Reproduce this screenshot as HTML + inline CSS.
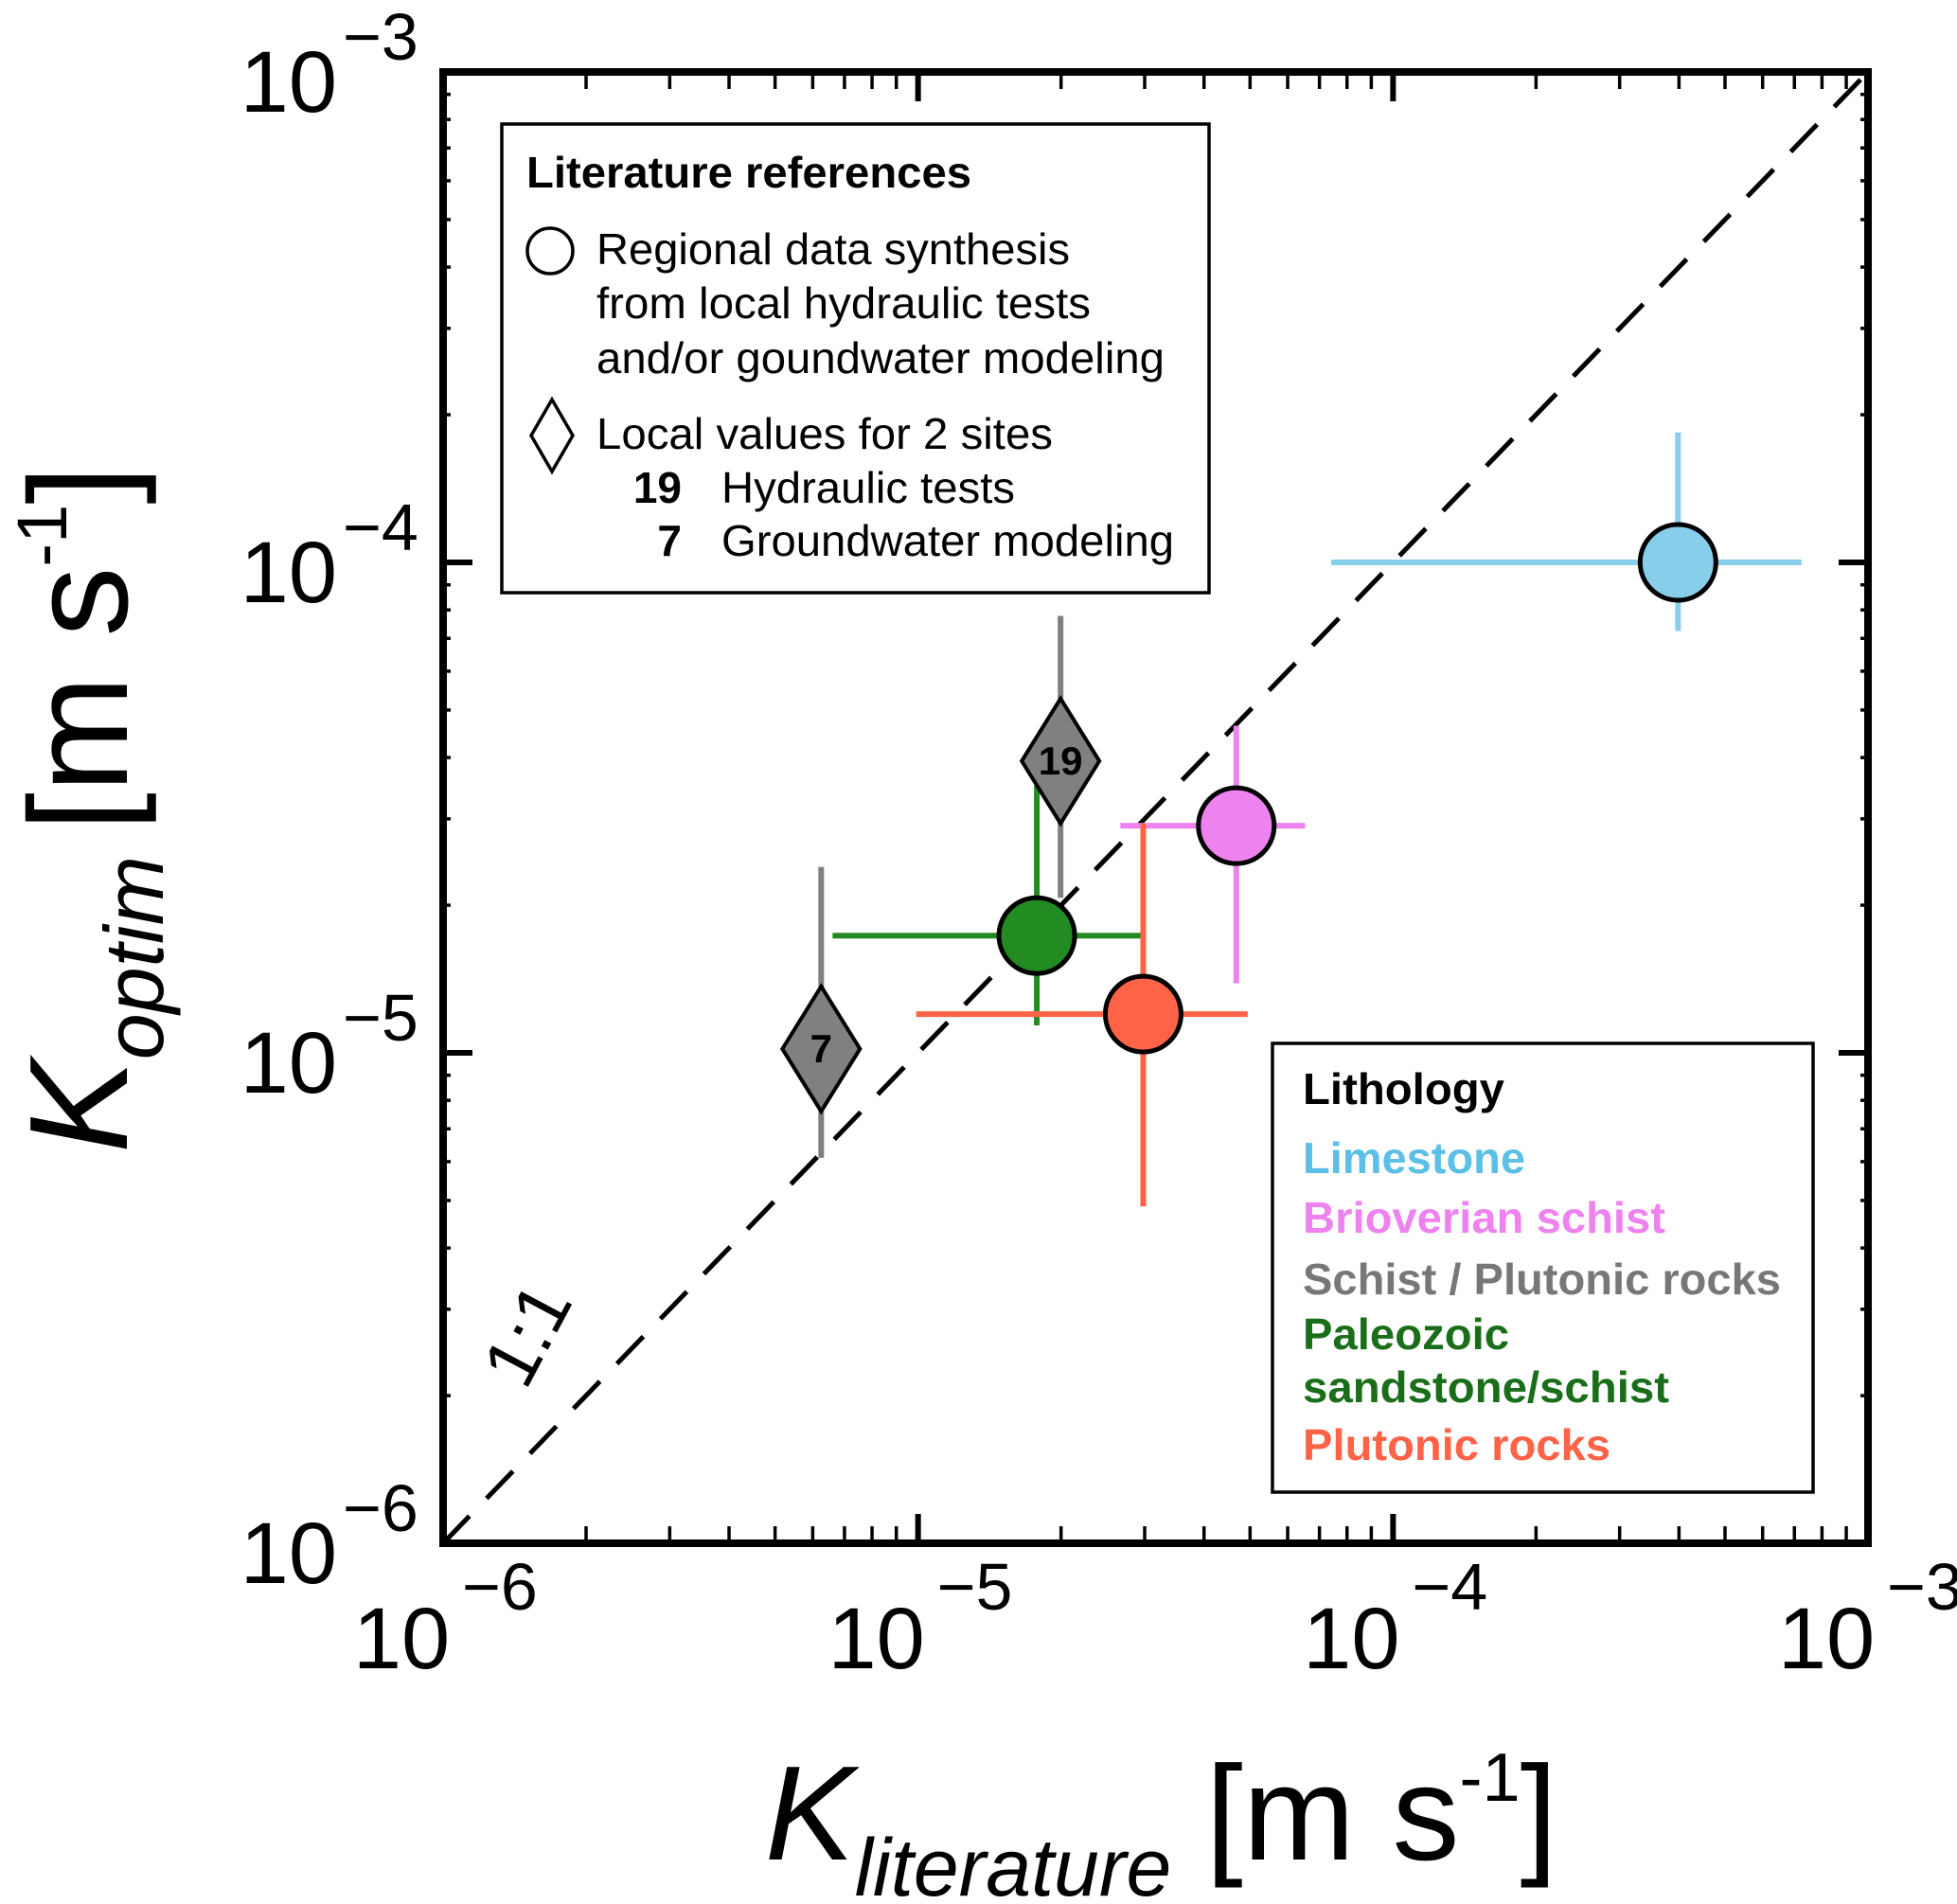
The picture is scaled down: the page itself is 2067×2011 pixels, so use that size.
<!DOCTYPE html>
<html><head><meta charset="utf-8"><style>
html,body{margin:0;padding:0;background:#fff;}
svg{display:block;font-family:"Liberation Sans",Arial,sans-serif;}
</style></head><body>
<svg id="chart" width="2067" height="2011" viewBox="0 0 2067 2011">
<g id="marks"></g>
</svg>
<script>
const categories = ["Limestone","Brioverian schist","Paleozoic sandstone/schist","Plutonic rocks","Site 19","Site 7"];
const logX = [-3.40,-4.33,-4.75,-4.526,-4.70,-5.204];
const logY = [-4.00,-4.537,-4.761,-4.921,-4.405,-4.992];
const xLow = [-4.13,-4.574,-5.18,-5.004,null,null];
const xHigh = [-3.14,-4.185,-4.526,-4.306,null,null];
const yLow = [-4.14,-4.858,-4.944,-5.313,-4.684,-5.214];
const yHigh = [-3.735,-4.333,-4.455,-4.532,-4.109,-4.621];
const markerType = ["circle","circle","circle","circle","diamond","diamond"];
const markerLabels = ["","","","","19","7"];
const xTickExps = [-6,-5,-4,-3];
const yTickExps = [-6,-5,-4,-3];

const NS="http://www.w3.org/2000/svg";
const L=468,R=1973,T=76,B=1630;
function sx(v){return L+(v+6)/3*(R-L);}
function sy(v){return B-(v+6)/3*(B-T);}
const svg=document.getElementById('chart');
function mk(tag,attrs,parent){const e=document.createElementNS(NS,tag);for(const k in attrs)e.setAttribute(k,attrs[k]);(parent||svg).appendChild(e);return e;}
const fills=["#87ceeb","#ee82ee","#228b22","#ff6347","#808080","#808080"];
const errCol=["#87ceeb","#ee82ee","#228b22","#ff6347","#808080","#808080"];

let e=mk('line',{x1:sx(-6),y1:sy(-6),x2:sx(-3),y2:sy(-3),stroke:'#000','stroke-width':5,'stroke-dasharray':'40 26'});


e=mk('text',{x:0,y:0,'font-size':78,transform:'translate(555,1470) rotate(-62)'});
e.textContent='1:1';



for(let i=0;i<categories.length;i++){
  const cx=sx(logX[i]),cy=sy(logY[i]);
  if(xLow[i]!==null){
    e=mk('line',{x1:sx(xLow[i]),y1:cy,x2:sx(xHigh[i]),y2:cy,stroke:errCol[i],'stroke-width':6});
    
    
  }
  e=mk('line',{x1:cx,y1:sy(yLow[i]),x2:cx,y2:sy(yHigh[i]),stroke:errCol[i],'stroke-width':6});
  
  
}
for(let i=0;i<categories.length;i++){
  const cx=sx(logX[i]),cy=sy(logY[i]);
  if(markerType[i]==='circle'){
    e=mk('circle',{cx:cx,cy:cy,r:40,fill:fills[i],stroke:'#000','stroke-width':5});
  } else {
    e=mk('polygon',{points:`${cx},${cy-66} ${cx+41},${cy} ${cx},${cy+66} ${cx-41},${cy}`,fill:fills[i],stroke:'#000','stroke-width':4});
    const t=mk('text',{x:cx,y:cy+14,'font-size':42,'font-weight':'bold','text-anchor':'middle'});
    t.textContent=markerLabels[i];
    
    
  }
  
  
}
e=mk('rect',{x:L,y:T,width:R-L,height:B-T,fill:'none',stroke:'#000','stroke-width':8});


for(let d=-6;d<-3;d++){
  for(let m=1;m<10;m++){
    const v=d+Math.log10(m);
    const major=m===1;
    const len=major?31:18, w=major?6:3.5;
    const x=sx(v),y=sy(v);
    if(m>1||d>-6){
      e=mk('line',{x1:x,y1:B,x2:x,y2:B-len,stroke:'#000','stroke-width':w});
      
      
      e=mk('line',{x1:x,y1:T,x2:x,y2:T+len,stroke:'#000','stroke-width':w});
      
      
      e=mk('line',{x1:L,y1:y,x2:L+(major?len:8),y2:y,stroke:'#000','stroke-width':w});
      
      
      e=mk('line',{x1:R,y1:y,x2:R-(major?len:8),y2:y,stroke:'#000','stroke-width':w});
      
      
    }
  }
}
for(const p of xTickExps){
  const x=sx(p);
  e=mk('text',{x:x-44,y:1762,'font-size':92,'text-anchor':'middle'});
  e.textContent='10';
  
  
  e=mk('text',{x:x+20,y:1700,'font-size':70});
  e.textContent='\u2212'+(-p);
  
  
}
for(const p of yTickExps){
  const y=sy(p);
  e=mk('text',{x:356,y:y+42,'font-size':92,'text-anchor':'end'});
  e.textContent='10';
  
  
  e=mk('text',{x:362,y:y-13,'font-size':70});
  e.textContent='\u2212'+(-p);
  
  
}
</script>
<svg style="position:absolute;left:0;top:0" width="2067" height="2011">
<g font-family="Liberation Sans, Arial, sans-serif">
<text x="808" y="1964" font-size="142"><tspan font-style="italic">K</tspan><tspan font-style="italic" font-size="86" dy="38" dx="0">literature</tspan><tspan dy="-38" dx="36">[m s</tspan><tspan font-size="72" dy="-62">-1</tspan><tspan dy="62">]</tspan></text>
<text transform="translate(134,1218) rotate(-90)" font-size="148"><tspan font-style="italic">K</tspan><tspan font-style="italic" font-size="88" dy="38">optim</tspan><tspan dy="-38" dx="26">[m s</tspan><tspan font-size="74" dy="-64">-1</tspan><tspan dy="64">]</tspan></text>
<g>
<rect x="530" y="131" width="747" height="495" fill="#fff" stroke="#000" stroke-width="3.5"/>
<text x="556" y="198" font-size="46" font-weight="bold" textLength="470" lengthAdjust="spacingAndGlyphs">Literature references</text>
<circle cx="581" cy="265" r="24" fill="none" stroke="#000" stroke-width="3.5"/>
<text x="630" y="279" font-size="46" textLength="500" lengthAdjust="spacingAndGlyphs">Regional data synthesis</text>
<text x="630" y="336" font-size="46" textLength="522" lengthAdjust="spacingAndGlyphs">from local hydraulic tests</text>
<text x="630" y="394" font-size="46" textLength="600" lengthAdjust="spacingAndGlyphs">and/or goundwater modeling</text>
<polygon points="583,422 605,460 583,498 561,460" fill="none" stroke="#000" stroke-width="3.5"/>
<text x="630" y="474" font-size="46" textLength="482" lengthAdjust="spacingAndGlyphs">Local values for 2 sites</text>
<text x="720" y="531" font-size="46" font-weight="bold" text-anchor="end">19</text>
<text x="762" y="531" font-size="46" textLength="310" lengthAdjust="spacingAndGlyphs">Hydraulic tests</text>
<text x="720" y="587" font-size="46" font-weight="bold" text-anchor="end">7</text>
<text x="762" y="587" font-size="46" textLength="478" lengthAdjust="spacingAndGlyphs">Groundwater modeling</text>
</g>
<g font-weight="bold" font-size="46">
<rect x="1344" y="1102" width="571" height="474" fill="#fff" stroke="#000" stroke-width="3.5"/>
<text x="1376" y="1166" fill="#000" textLength="213" lengthAdjust="spacingAndGlyphs">Lithology</text>
<text x="1376" y="1239" fill="#5bbfe6" textLength="235" lengthAdjust="spacingAndGlyphs">Limestone</text>
<text x="1376" y="1302" fill="#ee82ee" textLength="383" lengthAdjust="spacingAndGlyphs">Brioverian schist</text>
<text x="1376" y="1367" fill="#777" textLength="505" lengthAdjust="spacingAndGlyphs">Schist / Plutonic rocks</text>
<text x="1376" y="1425" fill="#1a6e1a" textLength="218" lengthAdjust="spacingAndGlyphs">Paleozoic</text>
<text x="1376" y="1481" fill="#1a6e1a" textLength="387" lengthAdjust="spacingAndGlyphs">sandstone/schist</text>
<text x="1376" y="1542" fill="#ff6347" textLength="325" lengthAdjust="spacingAndGlyphs">Plutonic rocks</text>
</g>
</g>
</svg>
</body></html>
